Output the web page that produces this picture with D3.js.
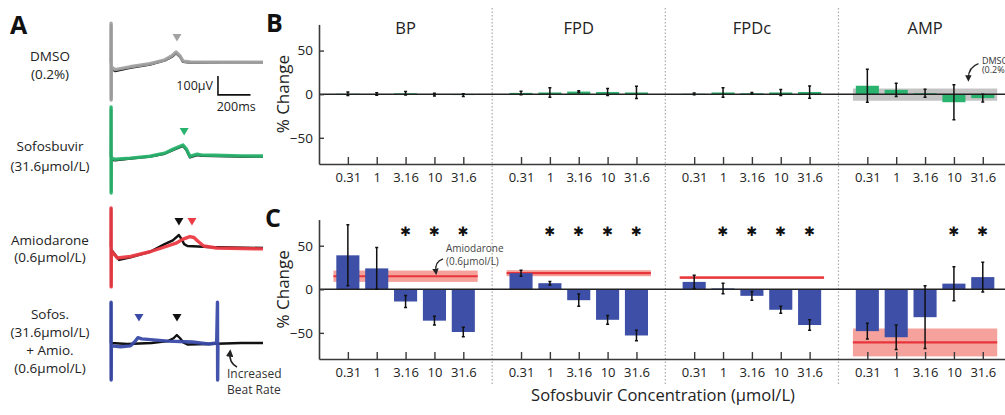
<!DOCTYPE html>
<html><head><meta charset="utf-8">
<script src="https://cdn.jsdelivr.net/npm/d3@7"></script>
<style>
html,body{margin:0;padding:0;background:#fff;}
svg{display:block;font-family:"Open Sans",sans-serif;}
</style></head>
<body>
<svg id="c" width="1005" height="415"></svg>
<script>
// ---------------- DATA ----------------
const panelNames = ["BP", "FPD", "FPDc", "AMP"];
const concLabels = ["0.31", "1", "3.16", "10", "31.6"];
const yTickValues = [-50, 0, 50];

// Panel B: sofosbuvir alone (% change, mean and error)
const sofoMean = [
  [0.5, 0.3, 1.0, -0.5, -1.0],
  [1.5, 2.0, 3.0, 2.5, 2.0],
  [0.5, 2.0, 1.0, 2.0, 2.5],
  [9.7, 5.0, 1.1, -9.2, -4.5]
];
const sofoErr = [
  [2, 1.5, 2, 1.5, 1.5],
  [2, 5.5, 1, 4, 7],
  [1, 5.5, 1, 3.5, 7],
  [19, 7.5, 4.6, 20, 4.5]
];
// DMSO (0.2%) reference band
const dmsoMean = [0, 0, 0, -0.5];
const dmsoErr = [0, 0, 0, 7];

// Panel C: sofosbuvir + amiodarone
const comboMean = [
  [39, 24, -14, -36, -49],
  [18.5, 7, -12.5, -35, -53],
  [8.5, 1, -7.5, -23.5, -41],
  [-48, -55, -32, 6.5, 14]
];
const comboErr = [
  [35, 24, 7, 5, 5.5],
  [3.5, 2, 7, 5, 6],
  [7.5, 6, 5, 4, 6],
  [9, 14, 36, 19.5, 17]
];
// Amiodarone (0.6 umol/L) reference band
const amioMean = [15, 18.5, 13.5, -61];
const amioErr = [6.5, 3.5, 1.5, 16];
// significance flags
const sigFlags = [
  [0, 0, 1, 1, 1],
  [0, 1, 1, 1, 1],
  [0, 1, 1, 1, 1],
  [0, 0, 0, 1, 1]
];
const sigLevel = 66;

// Panel A: field potential traces [time ms, microvolts]
const rowLabels = [
  ["DMSO", "(0.2%)"],
  ["Sofosbuvir", "(31.6μmol/L)"],
  ["Amiodarone", "(0.6μmol/L)"],
  ["Sofos.", "(31.6μmol/L)", "+ Amio.", "(0.6μmol/L)"]
];
const traceBase = [
  [[0,0],[0.5,200],[1,-190],[2,-30],[25,-42],[117,-25],[240,-8],[332,14],[375,33],[400,52],[425,33],[443,6],[486,3],[700,3],[935,2]],
  [[0,0],[0.5,250],[1,-180],[2,-15],[25,-18],[120,-8],[240,2],[330,17],[380,36],[420,50],[443,58],[465,35],[486,-2],[510,5],[530,10],[560,6],[640,5],[800,3],[935,2]],
  [[0,0],[0.5,200],[1,-205],[2,-15],[50,-68],[120,-55],[240,-25],[330,15],[380,35],[418,63],[435,40],[450,15],[470,5],[600,0],[935,-5]],
  [[0,0],[0.5,210],[1,-190],[2,0],[100,-5],[250,0],[350,10],[385,25],[405,42],[425,25],[445,3],[470,-8],[600,-5],[800,0],[935,0]]
];
const traceDrug = [
  [[0,0],[0.5,210],[1,-195],[2,-20],[25,-35],[117,-20],[240,-4],[332,17],[375,38],[400,58],[425,37],[443,10],[486,5],[700,4],[935,4]],
  [[0,0],[0.5,263],[1,-190],[2,-5],[25,-12],[120,-6],[240,4],[330,20],[380,40],[420,55],[443,63],[465,40],[486,3],[510,10],[530,15],[560,10],[640,9],[800,6],[935,5]],
  [[0,0],[0.5,205],[1,-210],[2,-20],[40,-58],[120,-50],[240,-25],[330,0],[400,20],[440,40],[485,55],[510,50],[535,30],[570,5],[650,-5],[935,-10]],
  [[0,0],[0.5,215],[1,-195],[2,-15],[60,-20],[120,-15],[145,5],[165,28],[190,22],[350,10],[500,5],[600,-5],[650,0],[655,215],[656,-195],[658,0]]
];
const markerDrugT = [406, 450, 498, 172];
const markerBaseT = [null, null, 418, 406];
const markerV = 132;
const scaleBarUV = 100, scaleBarMS = 200;

// ---------------- STYLE / LAYOUT ----------------
const rowColors = ["#a3a3a3", "#2ab36e", "#ec3b45", "#3a4aa6"];
const green = "#2ab36e", blue = "#3d4fa6", red = "#e8353c", redBand = "#f4a29b", grayBand = "#c4c4c4";
const axisColor = "#3a3a3a", textColor = "#222";

const svg = d3.select("#c");
const defs = svg.append("defs");
defs.append("marker").attr("id","ah").attr("viewBox","0 0 10 10").attr("refX",5).attr("refY",5)
  .attr("markerWidth",5).attr("markerHeight",5).attr("orient","auto-start-reverse")
  .append("path").attr("d","M0,0 L10,5 L0,10 z").attr("fill","#222");

// ---- Panel A ----
svg.append("text").attr("x",10).attr("y",34).attr("font-size",25).attr("font-weight",700).attr("fill","#111").text("A");
const tScale = d3.scaleLinear().domain([0, 935]).range([111, 263]);
const rowBase = [63, 157, 247, 343];
const vScale = rowBase.map(b => d3.scaleLinear().domain([0, 100]).range([b, b - 19]));
const labelCenters = [[56,74],[146,166],[240,257],[314,332,350,368]];
rowLabels.forEach((lines, r) => {
  lines.forEach((t, k) => {
    svg.append("text").attr("x", 50).attr("y", labelCenters[r][k]).attr("dy","0.35em")
      .attr("text-anchor","middle").attr("font-size",13.5).attr("fill",textColor).text(t);
  });
});
rowBase.forEach((b, r) => {
  const line = d3.line().x(d => tScale(d[0])).y(d => vScale[r](d[1])).curve(d3.curveLinear);
  svg.append("path").attr("d", line(traceBase[r])).attr("fill","none").attr("stroke","#111")
    .attr("stroke-width",2.4).attr("stroke-linejoin","round");
  svg.append("path").attr("d", line(traceDrug[r])).attr("fill","none").attr("stroke",rowColors[r])
    .attr("stroke-width",3.4).attr("stroke-linejoin","round").attr("opacity",0.95);
  const tri = (t, col) => {
    const cx = tScale(t), cy = vScale[r](markerV);
    svg.append("path").attr("d", `M${cx-4.5},${cy-4} L${cx+4.5},${cy-4} L${cx},${cy+3.5} Z`).attr("fill", col);
  };
  if (markerBaseT[r] !== null) tri(markerBaseT[r], "#111");
  tri(markerDrugT[r], rowColors[r]);
});
// scale bar
{
  const t0 = 658, v0 = -168;
  const sx = tScale(t0), sy = vScale[0](v0);
  svg.append("path").attr("d", `M${sx},${vScale[0](v0+scaleBarUV)} L${sx},${sy} L${tScale(t0+scaleBarMS)},${sy}`)
    .attr("fill","none").attr("stroke","#111").attr("stroke-width",1.6);
  svg.append("text").attr("x", sx-5).attr("y", vScale[0](v0+scaleBarUV/2)).attr("dy","0.35em")
    .attr("text-anchor","end").attr("font-size",12.5).attr("fill",textColor).text("100μV");
  svg.append("text").attr("x", tScale(t0+scaleBarMS/2)+2).attr("y", sy+12).attr("dy","0.35em")
    .attr("text-anchor","middle").attr("font-size",12.5).attr("fill",textColor).text("200ms");
}
// increased beat rate
svg.append("path").attr("d","M237,367 Q229,363 230,353").attr("fill","none").attr("stroke","#222")
  .attr("stroke-width",1.5).attr("marker-end","url(#ah)");
svg.append("text").attr("x",227).attr("y",378).attr("font-size",12).attr("fill","#333").text("Increased");
svg.append("text").attr("x",227).attr("y",394).attr("font-size",12).attr("fill","#333").text("Beat Rate");

// ---- Panels B & C ----
const x = d3.scaleLinear().domain([0, 24]).range([319, 319 + 24 * 28.86]);
const slot = (p, i) => p * 6 + i + 1;
const yB = d3.scaleLinear().domain([-80, 80]).range([164, 24.4]);
const yC = d3.scaleLinear().domain([-80, 80]).range([359, 219.6]);
const barW = (x(1) - x(0)) * 0.8;
const capW = 3;

// dividers
[6, 12, 18].forEach(s => {
  svg.append("line").attr("x1", x(s)).attr("x2", x(s)).attr("y1", 8).attr("y2", 386)
    .attr("stroke","#aaa").attr("stroke-width",1.2).attr("stroke-dasharray","1.5,2");
});

// titles
panelNames.forEach((n, p) => {
  svg.append("text").attr("x", x(p * 6 + 3)).attr("y", 34).attr("text-anchor","middle")
    .attr("font-size",16.5).attr("fill",textColor).text(n);
});
svg.append("text").attr("x",266).attr("y",32).attr("font-size",25).attr("font-weight",700).attr("fill","#111").text("B");
svg.append("text").attr("x",265).attr("y",227).attr("font-size",25).attr("font-weight",700).attr("fill","#111").text("C");

function drawRow(y, means, errs, barColor, refMean, refErr, refBandColor, refLineColor, sig) {
  const g = svg.append("g");
  // reference bands
  refMean.forEach((m, p) => {
    if (refErr[p] > 0) {
      g.append("rect").attr("x", x(p*6+0.5)).attr("width", x(p*6+5.5) - x(p*6+0.5))
        .attr("y", y(m + refErr[p])).attr("height", y(m - refErr[p]) - y(m + refErr[p]))
        .attr("fill", refBandColor);
    }
    if (refLineColor) {
      g.append("line").attr("x1", x(p*6+0.5)).attr("x2", x(p*6+5.5)).attr("y1", y(m)).attr("y2", y(m))
        .attr("stroke", refLineColor).attr("stroke-width", 2.2);
    }
  });
  // bars
  means.forEach((arr, p) => arr.forEach((v, i) => {
    const cx = x(slot(p, i));
    g.append("rect").attr("x", cx - barW/2).attr("width", barW)
      .attr("y", y(Math.max(0, v))).attr("height", Math.abs(y(v) - y(0)))
      .attr("fill", barColor);
  }));
  // zero line
  g.append("line").attr("x1", x(0)).attr("x2", 1005).attr("y1", y(0)).attr("y2", y(0))
    .attr("stroke","#222").attr("stroke-width",1.4);
  // error bars
  means.forEach((arr, p) => arr.forEach((v, i) => {
    const cx = x(slot(p, i)), e = errs[p][i];
    g.append("path").attr("d",
      `M${cx},${y(v+e)} L${cx},${y(v-e)} M${cx-capW/2},${y(v+e)} L${cx+capW/2},${y(v+e)} M${cx-capW/2},${y(v-e)} L${cx+capW/2},${y(v-e)}`)
      .attr("stroke","#111").attr("stroke-width",1.5).attr("fill","none");
  }));
  // significance
  if (sig) sig.forEach((arr, p) => arr.forEach((f, i) => {
    if (f) g.append("text").attr("x", x(slot(p, i))).attr("y", y(sigLevel)).attr("dy","0.35em")
      .attr("text-anchor","middle").attr("font-family","DejaVu Sans").attr("font-size",13).attr("fill","#111").text("✱");
  }));
  // axes
  const xa = d3.axisBottom(x).tickValues(d3.range(4).flatMap(p => d3.range(5).map(i => slot(p, i))))
    .tickFormat(d => concLabels[(d - 1) % 6]).tickSizeInner(-7).tickSizeOuter(0).tickPadding(9);
  const gx = svg.append("g").attr("transform", `translate(0,${y.range()[0]})`).call(xa);
  gx.select(".domain").attr("stroke", axisColor).attr("stroke-width",1.6);
  gx.selectAll(".tick line").attr("stroke", axisColor).attr("stroke-width",1.4);
  gx.selectAll(".tick text").attr("font-size",13).attr("fill",textColor).attr("font-family","Open Sans, sans-serif");
  const ya = d3.axisLeft(y).tickValues(yTickValues).tickFormat(d => d < 0 ? "−" + Math.abs(d) : d)
    .tickSizeInner(-5).tickSizeOuter(0).tickPadding(6);
  const gy = svg.append("g").attr("transform", `translate(${x(0)},0)`).call(ya);
  gy.select(".domain").attr("stroke", axisColor).attr("stroke-width",1.6);
  gy.selectAll(".tick line").attr("stroke", axisColor).attr("stroke-width",1.4);
  gy.selectAll(".tick text").attr("font-size",13.5).attr("fill",textColor).attr("font-family","Open Sans, sans-serif");
  // y label
  svg.append("text").attr("transform", `translate(${283},${y(0)}) rotate(-90)`).attr("dy","0.35em")
    .attr("text-anchor","middle").attr("font-size",17).attr("fill",textColor).text("% Change");
}

drawRow(yB, sofoMean, sofoErr, green, dmsoMean, dmsoErr, grayBand, null, null);
drawRow(yC, comboMean, comboErr, blue, amioMean, amioErr, redBand, red, sigFlags);

// annotations
svg.append("path").attr("d", `M${x(22.85)},${yB(35)} Q${x(22.5)},${yB(31)} ${x(22.5)},${yB(18)}`)
  .attr("fill","none").attr("stroke","#222").attr("stroke-width",1.3).attr("marker-end","url(#ah)");
svg.append("text").attr("x", x(22.97)).attr("y", yB(38)).attr("dy","0.35em").attr("font-size",9).attr("fill","#333").text("DMSO");
svg.append("text").attr("x", x(22.97)).attr("y", yB(27.5)).attr("dy","0.35em").attr("font-size",9).attr("fill","#333").text("(0.2%)");

svg.append("path").attr("d", `M${x(4.3)},${yC(35)} Q${x(4.0)},${yC(32)} ${x(4.05)},${yC(20)}`)
  .attr("fill","none").attr("stroke","#222").attr("stroke-width",1.3).attr("marker-end","url(#ah)");
svg.append("text").attr("x", x(4.4)).attr("y", yC(47)).attr("dy","0.35em").attr("font-size",10).attr("fill","#444").text("Amiodarone");
svg.append("text").attr("x", x(4.4)).attr("y", yC(32)).attr("dy","0.35em").attr("font-size",10).attr("fill","#444").text("(0.6μmol/L)");

svg.append("text").attr("x", 663).attr("y", 395).attr("dy","0.35em").attr("text-anchor","middle")
  .attr("font-size",16.5).attr("fill",textColor).text("Sofosbuvir Concentration (μmol/L)");
</script>
</body></html>
